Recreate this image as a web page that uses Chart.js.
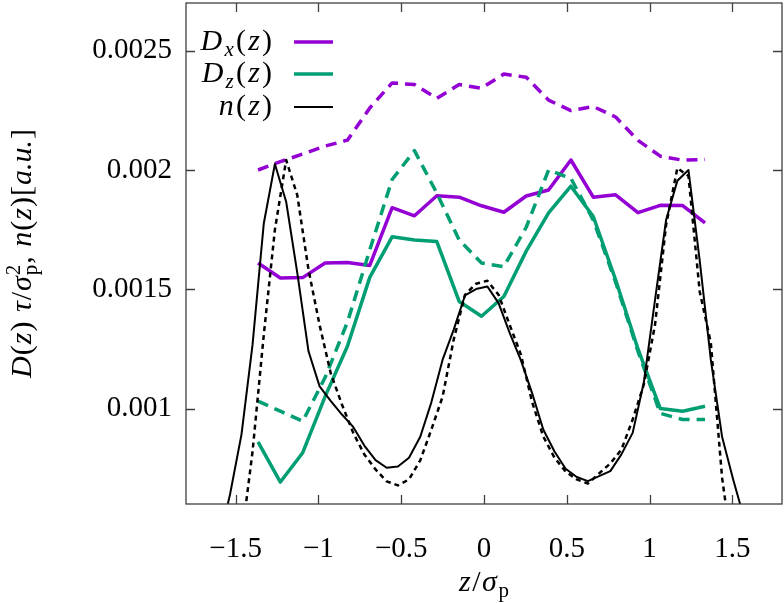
<!DOCTYPE html>
<html lang="en">
<head>
<meta charset="UTF-8" />
<title>D(z) and n(z) profiles</title>
<script src="https://cdn.jsdelivr.net/npm/chart.js"></script>
<style>
  html, body { margin: 0; padding: 0; background: #fff; }
  #wrap { width: 784px; height: 603px; }
</style>
</head>
<body>
<div id="wrap"><canvas id="chart" width="784" height="603"></canvas></div>
<script>
// z grid of the diffusion profiles
const zD = [-1.365, -1.23, -1.095, -0.96, -0.825, -0.69, -0.555, -0.42, -0.285, -0.15, -0.015,
            0.12, 0.255, 0.39, 0.525, 0.66, 0.795, 0.93, 1.065, 1.2, 1.335];
const dxSolid = [0.00161, 0.001547, 0.001549, 0.00161, 0.001612, 0.0016, 0.001842, 0.001808, 0.001892, 0.001886, 0.00185,
                 0.001823, 0.001891, 0.001916, 0.002042, 0.001886, 0.001896, 0.001821, 0.001852, 0.001851, 0.001778];
const dxDashed = [0.002, 0.002035, 0.002067, 0.0021, 0.002125, 0.00226, 0.002365, 0.002358, 0.0023, 0.002358, 0.002343,
                  0.002402, 0.002389, 0.002293, 0.002249, 0.002266, 0.002222, 0.002124, 0.002058, 0.002041, 0.002044];
const dzSolid = [0.00086, 0.000692, 0.000815, 0.00105, 0.001261, 0.00155, 0.00172, 0.001707, 0.0017, 0.001449, 0.001387,
                 0.00147, 0.00166, 0.00182, 0.001932, 0.001805, 0.00154, 0.00125, 0.001, 0.000989, 0.00101];
const dzDashed = [0.001031, 0.000989, 0.000947, 0.00113, 0.001362, 0.001665, 0.00196, 0.002081, 0.001903, 0.001707, 0.00161,
                  0.001595, 0.00176, 0.002, 0.001965, 0.00179, 0.00153, 0.00124, 0.00098, 0.000954, 0.000954];

// z grid of the density profiles
const zN = [-1.6, -1.533, -1.465, -1.398, -1.33, -1.263, -1.195, -1.128, -1.06, -0.993, -0.925, -0.858,
            -0.79, -0.723, -0.655, -0.588, -0.52, -0.453, -0.385, -0.318, -0.25, -0.183, -0.115, -0.048,
            0.02, 0.088, 0.155, 0.223, 0.29, 0.358, 0.425, 0.493, 0.56, 0.628, 0.695, 0.763,
            0.83, 0.898, 0.965, 1.033, 1.1, 1.168, 1.235, 1.303, 1.37, 1.438, 1.505, 1.573];
const nSim = [0.00044, 0.000644, 0.000891, 0.001268, 0.001777, 0.002025, 0.001867, 0.00157, 0.00124, 0.001093, 0.001031, 0.000975,
              0.000923, 0.000845, 0.000784, 0.000752, 0.000757, 0.000794, 0.000882, 0.001026, 0.001205, 0.001331, 0.001474, 0.001501,
              0.001512, 0.001442, 0.001317, 0.001202, 0.001066, 0.000912, 0.000821, 0.000748, 0.000713, 0.000696, 0.000717, 0.000738,
              0.000808, 0.000898, 0.001108, 0.001456, 0.001791, 0.001955, 0.002, 0.00162, 0.001205, 0.000882, 0.000703, 0.000536];
const nTheory = [0.0001, 0.0002, 0.00045, 0.00082, 0.00131, 0.00175, 0.002042, 0.001895, 0.001582, 0.00135, 0.001146, 0.001017,
                 0.000898, 0.000808, 0.000745, 0.000695, 0.000678, 0.000703, 0.000783, 0.000912, 0.00105, 0.001289, 0.001477, 0.001523,
                 0.001536, 0.001477, 0.001351, 0.001226, 0.001029, 0.000883, 0.000795, 0.000736, 0.000703, 0.000686, 0.000728, 0.00077,
                 0.000828, 0.000954, 0.0011, 0.001351, 0.00177, 0.002008, 0.001975, 0.00149, 0.001276, 0.000711, 0.00037, 0.0002];

const xTicks = [-1.5, -1, -0.5, 0, 0.5, 1, 1.5];
const xTickLabels = ['\u22121.5', '\u22121', '\u22120.5', '0', '0.5', '1', '1.5'];
const yTicks = [0.001, 0.0015, 0.002, 0.0025];
const yTickLabels = ['0.001', '0.0015', '0.002', '0.0025'];

const PURPLE = '#9400d3';
const GREEN = '#009e73';
const SERIF = '"Liberation Serif", "DejaVu Serif", serif';

const pts = (xs, ys) => xs.map((x, i) => ({ x, y: ys[i] }));

// draws a run of text pieces (italic / sub / superscript) on one baseline
function drawRich(ctx, parts, x, y, align, gap) {
  const font = p => (p.it ? 'italic ' : '') + (p.size || 30) + 'px ' + SERIF;
  gap = gap || 0;
  let total = 0;
  parts.forEach(p => {
    ctx.font = font(p);
    p.w = ctx.measureText(p.t).width;
    if (!p.stay) total += p.w + gap;
  });
  total -= gap;
  let cx = align === 'right' ? x - total : align === 'center' ? x - total / 2 : x;
  ctx.textAlign = 'left';
  ctx.textBaseline = 'alphabetic';
  ctx.fillStyle = '#000';
  parts.forEach(p => {
    ctx.font = font(p);
    ctx.fillText(p.t, cx, y + (p.dy || 0));
    if (!p.stay) cx += p.w + gap;
  });
}

const overlay = {
  id: 'overlay',
  afterDraw(chart) {
    const { ctx, chartArea: a, scales } = chart;
    ctx.save();
    // frame and inward ticks on all four sides
    ctx.strokeStyle = '#404040';
    ctx.lineWidth = 1.3;
    ctx.strokeRect(a.left, a.top, a.right - a.left, a.bottom - a.top);
    ctx.beginPath();
    scales.x.ticks.forEach(t => {
      const p = Math.round(scales.x.getPixelForValue(t.value)) + 0.5;
      ctx.moveTo(p, a.bottom); ctx.lineTo(p, a.bottom - 9);
      ctx.moveTo(p, a.top); ctx.lineTo(p, a.top + 9);
    });
    scales.y.ticks.forEach(t => {
      const p = Math.round(scales.y.getPixelForValue(t.value)) + 0.5;
      ctx.moveTo(a.left, p); ctx.lineTo(a.left + 9, p);
      ctx.moveTo(a.right, p); ctx.lineTo(a.right - 9, p);
    });
    ctx.stroke();

    // legend
    const rows = [
      { y: 42, color: PURPLE, w: 3.5, parts: [{ t: 'D', it: 1 }, { t: 'x', it: 1, size: 21, dy: 6 }, { t: '(' }, { t: 'z', it: 1 }, { t: ')' }] },
      { y: 74, color: GREEN, w: 3.5, parts: [{ t: 'D', it: 1 }, { t: 'z', it: 1, size: 21, dy: 6 }, { t: '(' }, { t: 'z', it: 1 }, { t: ')' }] },
      { y: 107, color: '#000', w: 2, parts: [{ t: 'n', it: 1 }, { t: '(' }, { t: 'z', it: 1 }, { t: ')' }] }
    ];
    rows.forEach(r => {
      ctx.strokeStyle = r.color;
      ctx.lineWidth = r.w;
      ctx.beginPath();
      ctx.moveTo(294, r.y); ctx.lineTo(333, r.y);
      ctx.stroke();
      drawRich(ctx, r.parts, 272, r.y + 8, 'right', 2.2);
    });

    // axis titles
    drawRich(ctx, [{ t: 'z', it: 1 }, { t: '/' }, { t: '\u03c3', it: 1 }, { t: 'p', size: 21, dy: 6 }],
      (a.left + a.right) / 2, 591, 'center', 1.5);
    ctx.translate(31, (a.top + a.bottom) / 2);
    ctx.rotate(-Math.PI / 2);
    drawRich(ctx, [
      { t: 'D', it: 1 }, { t: '(' }, { t: 'z', it: 1 }, { t: ')' }, { t: ' ' },
      { t: '\u03c4', it: 1 }, { t: '/' }, { t: '\u03c3', it: 1 },
      { t: '2', size: 21, dy: -11, stay: true }, { t: 'p', size: 21, dy: 6 },
      { t: ',' }, { t: ' ' }, { t: 'n', it: 1 }, { t: '(' }, { t: 'z', it: 1 }, { t: ')' },
      { t: '[' }, { t: 'a.u.', it: 1 }, { t: ']' }
    ], 0, 0, 'center', 1);
    ctx.restore();
  }
};

new Chart(document.getElementById('chart'), {
  type: 'line',
  data: {
    datasets: [
      { label: 'n sim', data: pts(zN, nSim), borderColor: '#000', borderWidth: 2 },
      { label: 'n theory', data: pts(zN, nTheory), borderColor: '#000', borderWidth: 2.5, borderDash: [5, 4] },
      { label: 'Dz', data: pts(zD, dzSolid), borderColor: GREEN, borderWidth: 3.5 },
      { label: 'Dz dashed', data: pts(zD, dzDashed), borderColor: GREEN, borderWidth: 3.5, borderDash: [11, 7] },
      { label: 'Dx', data: pts(zD, dxSolid), borderColor: PURPLE, borderWidth: 3.5 },
      { label: 'Dx dashed', data: pts(zD, dxDashed), borderColor: PURPLE, borderWidth: 3.5, borderDash: [11, 7] }
    ]
  },
  options: {
    responsive: false,
    animation: false,
    layout: { padding: { left: 0, right: 2, top: 3, bottom: 0 } },
    elements: {
      point: { radius: 0 },
      line: { tension: 0, borderJoinStyle: 'round', fill: false }
    },
    scales: {
      x: {
        type: 'linear',
        min: -1.8,
        max: 1.8,
        afterBuildTicks: s => { s.ticks = xTicks.map(v => ({ value: v })); },
        afterFit: s => { s.height = 99; s.paddingLeft = 0; s.paddingRight = 0; },
        grid: { display: false, drawTicks: false },
        border: { display: false },
        ticks: {
          autoSkip: false, maxRotation: 0, padding: 28, color: '#000',
          font: { family: SERIF, size: 29 },
          callback: (v, i) => xTickLabels[i]
        }
      },
      y: {
        type: 'linear',
        min: 0.0006,
        max: 0.0027,
        afterBuildTicks: s => { s.ticks = yTicks.map(v => ({ value: v })); },
        afterFit: s => { s.width = 186; s.paddingTop = 0; s.paddingBottom = 0; },
        grid: { display: false, drawTicks: false },
        border: { display: false },
        ticks: {
          padding: 14, color: '#000',
          font: { family: SERIF, size: 29 },
          callback: (v, i) => yTickLabels[i]
        }
      }
    },
    plugins: { legend: { display: false }, tooltip: { enabled: false } }
  },
  plugins: [overlay]
});
</script>
</body>
</html>
